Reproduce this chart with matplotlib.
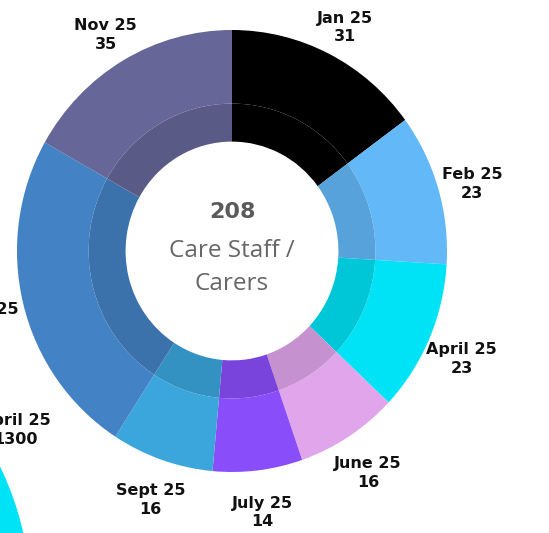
import matplotlib.pyplot as plt
from matplotlib.patches import Wedge
import numpy as np

# data
months = ['Jan 25', 'Feb 25', 'April 25', 'June 25', 'July 25', 'Sept 25', 'Oct 25', 'Nov 25']
staff = [31, 23, 23, 16, 14, 16, 50, 35]
colours = ['#000000', '#63B8F8', '#00E2F5', '#E0A5EB', '#8A4DFA', '#3BA6DC', '#4382C4', '#666699']
total = sum(staff)
centre_title = 'Care Staff /\nCarers'

# neighbouring chart, cut off at the left edge of the screenshot
side_label = 'April 25\n1300'

fig = plt.figure(figsize=(5.49, 5.33), dpi=100)
ax = fig.add_axes([0, 0, 1, 1])

# scale: 215 px per unit across, 221 px per unit down, centre at (232, 251) px
sx, sy, cx, cy = 215, 221, 232, 251
def lims():
    ax.set_xlim(-cx / sx, (549 - cx) / sx)
    ax.set_ylim(-(533 - cy) / sy, cy / sy)

labels = [m + '\n' + str(v) for m, v in zip(months, staff)]

wedges, texts = ax.pie(staff, colors=colours, labels=labels, startangle=90, counterclock=False,
                       radius=1.0, labeldistance=1.164,
                       wedgeprops=dict(width=0.333, linewidth=0),
                       textprops=dict(fontsize=11.5, fontweight='bold', color='#111111',
                                      family='DejaVu Sans'))
for t in texts:
    t.set_horizontalalignment('center')
    t.set_verticalalignment('center')
    t.set_linespacing(1.3)
    x, y = t.get_position()
    t.set_position((x, y - 6 / sy))

# darker inner band
darker = [tuple(np.array(plt.matplotlib.colors.to_rgb(c)) * 0.88) for c in colours]
ax.pie(staff, colors=darker, startangle=90, counterclock=False, radius=0.667,
       wedgeprops=dict(width=0.172, linewidth=0))

ax.set_aspect('auto')
lims()
ax.axis('off')

ax.text(0, 0.176, str(total), ha='center', va='center', fontsize=16, fontweight='bold',
        color='#5a5a5a', family='DejaVu Sans')
ax.text(0, -0.075, centre_title, ha='center', va='center', fontsize=17.5, color='#666666',
        family='Open Sans', linespacing=1.5)

# pieces of the neighbouring chart
fig.text(15 / 549, 1 - 430 / 533, side_label, ha='center', va='center', fontsize=11.5,
         fontweight='bold', color='#111111', family='DejaVu Sans', linespacing=1.35)
ax.add_patch(Wedge(((-260 - cx) / sx, (cy - 600) / sy), 290 / sx, 0, 90, width=0.3,
                   color='#00E2F5'))
lims()

fig.savefig('out.png', dpi=100)
